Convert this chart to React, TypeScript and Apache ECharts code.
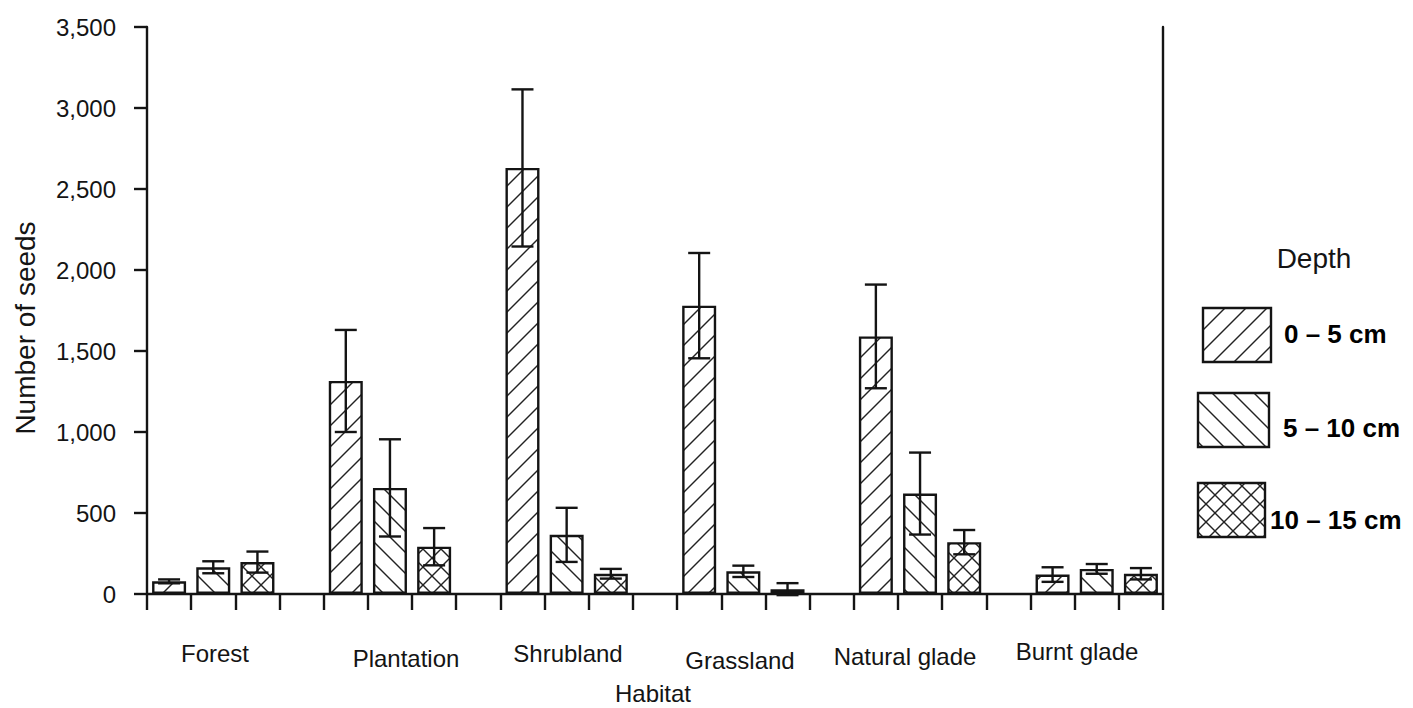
import React, { useEffect, useRef } from "react";
import * as echarts from "echarts";

// ---- data ----
const habitats = ["Forest", "Plantation", "Shrubland", "Grassland", "Natural glade", "Burnt glade"];
const depthLabels = ["0 – 5 cm", "5 – 10 cm", "10 – 15 cm"];
const seeds0to5 = [78, 1315, 2630, 1780, 1590, 120];
const seeds5to10 = [165, 655, 365, 140, 620, 155];
const seeds10to15 = [197, 292, 125, 30, 320, 125];
const err0to5 = [12, 315, 485, 325, 320, 45];
const err5to10 = [37, 300, 167, 35, 253, 30];
const err10to15 = [65, 115, 30, 37, 75, 35];
const yMin = 0;
const yMax = 3500;
const yStep = 500;

// ---- layout (not data) ----
const catLabelPos = [
  [215, 653], [406, 658], [568, 653], [740, 660], [905, 656], [1077, 651],
];
const FONT = "'Liberation Sans', Arial, Helvetica, sans-serif";
const INK = "#141414";
const LW = 2.4;

function makeHatch(kind: "fwd" | "back" | "cross", size: number) {
  const c = document.createElement("canvas");
  c.width = size;
  c.height = size;
  const ctx = c.getContext("2d")!;
  ctx.fillStyle = "#ffffff";
  ctx.fillRect(0, 0, size, size);
  ctx.strokeStyle = "#222222";
  ctx.lineWidth = 1.4;
  const fwd = () => {
    for (const k of [0, size, 2 * size]) {
      ctx.beginPath();
      ctx.moveTo(k - size - 2, size + 2);
      ctx.lineTo(k + 2, -2);
      ctx.stroke();
    }
  };
  const back = () => {
    for (const k of [-size, 0, size]) {
      ctx.beginPath();
      ctx.moveTo(k - 2, -2);
      ctx.lineTo(k + size + 2, size + 2);
      ctx.stroke();
    }
  };
  if (kind === "fwd") fwd();
  else if (kind === "back") back();
  else {
    fwd();
    back();
  }
  return { image: c, repeat: "repeat", imageWidth: size, imageHeight: size } as any;
}

export default function App() {
  const ref = useRef<HTMLDivElement>(null);
  useEffect(() => {
    if (!ref.current) return;
    const chart = echarts.init(ref.current, undefined, { renderer: "svg" });

    const patterns = [makeHatch("fwd", 21), makeHatch("back", 21), makeHatch("cross", 18)];
    const means = [seeds0to5, seeds5to10, seeds10to15];
    const errs = [err0to5, err5to10, err10to15];
    const G = habitats.length;
    const nSlots = G * 4 - 1;
    const slots: string[] = [];
    for (let g = 0; g < G; g++) {
      for (let s = 0; s < 4; s++) {
        if (s < 3) slots.push(habitats[g] + " " + depthLabels[s]);
        else if (g < G - 1) slots.push("gap " + g);
      }
    }

    const barSeries = depthLabels.map((name, d) => {
      const data: any[] = new Array(nSlots).fill("-");
      for (let g = 0; g < G; g++) data[g * 4 + d] = means[d][g];
      return {
        name,
        type: "bar",
        data,
        barWidth: 34,
        barGap: "-100%",
        itemStyle: { color: patterns[d], borderColor: INK, borderWidth: LW },
        emphasis: { disabled: true },
      };
    });

    const errData: number[][] = [];
    for (let d = 0; d < 3; d++)
      for (let g = 0; g < G; g++)
        errData.push([g * 4 + d, means[d][g] - errs[d][g], means[d][g] + errs[d][g]]);

    const legendBoxes = [
      [1203, 308, 68, 54],
      [1198, 393, 71, 54],
      [1198, 483, 67, 54],
    ];
    const legendText = [
      [1284, 334],
      [1283, 428],
      [1270, 520],
    ];

    const graphic: any[] = [];
    habitats.forEach((h, i) => {
      graphic.push({
        type: "text",
        x: catLabelPos[i][0],
        y: catLabelPos[i][1],
        style: { text: h, font: `24px ${FONT}`, fill: INK, textAlign: "center", textVerticalAlign: "middle" },
      });
    });
    graphic.push({
      type: "text",
      x: 653,
      y: 693,
      style: { text: "Habitat", font: `24px ${FONT}`, fill: INK, textAlign: "center", textVerticalAlign: "middle" },
    });
    graphic.push({
      type: "text",
      x: 25,
      y: 328,
      rotation: Math.PI / 2,
      style: { text: "Number of seeds", font: `28px ${FONT}`, fill: INK, textAlign: "center", textVerticalAlign: "middle" },
    });
    graphic.push({
      type: "text",
      x: 1314,
      y: 258,
      style: { text: "Depth", font: `28px ${FONT}`, fill: INK, textAlign: "center", textVerticalAlign: "middle" },
    });
    depthLabels.forEach((name, d) => {
      const [x, y, w, h] = legendBoxes[d];
      graphic.push({
        type: "rect",
        shape: { x, y, width: w, height: h },
        style: { fill: patterns[d], stroke: INK, lineWidth: LW },
      });
      graphic.push({
        type: "text",
        x: legendText[d][0],
        y: legendText[d][1],
        style: { text: name, font: `bold 26px ${FONT}`, fill: "#000", textAlign: "left", textVerticalAlign: "middle" },
      });
    });

    chart.setOption({
      animation: false,
      backgroundColor: "#ffffff",
      grid: { left: 147, right: 250, top: 27, bottom: 114, containLabel: false },
      xAxis: {
        type: "category",
        data: slots,
        boundaryGap: true,
        axisLine: { show: true, lineStyle: { color: INK, width: LW } },
        axisTick: { show: true, interval: 0, length: 16, lineStyle: { color: INK, width: LW } },
        axisLabel: { show: false },
        splitLine: { show: false },
      },
      yAxis: [
        {
          type: "value",
          min: yMin,
          max: yMax,
          interval: yStep,
          axisLine: { show: true, lineStyle: { color: INK, width: LW } },
          axisTick: { show: true, length: 13, lineStyle: { color: INK, width: LW } },
          axisLabel: {
            margin: 31,
            fontSize: 24,
            fontFamily: FONT,
            color: INK,
            formatter: (v: number) => v.toLocaleString("en-US"),
          },
          splitLine: { show: false },
        },
        {
          type: "value",
          position: "right",
          min: yMin,
          max: yMax,
          interval: yStep,
          axisLine: { show: true, lineStyle: { color: INK, width: LW } },
          axisTick: { show: false },
          axisLabel: { show: false },
          splitLine: { show: false },
        },
      ],
      series: [
        ...barSeries,
        {
          name: "SE",
          type: "custom",
          data: errData,
          encode: { x: 0, y: [1, 2] },
          z: 5,
          renderItem: (_params: any, api: any) => {
            const x = api.value(0);
            const lo = api.coord([x, api.value(1)]);
            const hi = api.coord([x, api.value(2)]);
            const hw = 11;
            const st = { stroke: INK, lineWidth: LW };
            return {
              type: "group",
              children: [
                { type: "line", shape: { x1: hi[0], y1: hi[1], x2: lo[0], y2: lo[1] }, style: st },
                { type: "line", shape: { x1: hi[0] - hw, y1: hi[1], x2: hi[0] + hw, y2: hi[1] }, style: st },
                { type: "line", shape: { x1: lo[0] - hw, y1: lo[1], x2: lo[0] + hw, y2: lo[1] }, style: st },
              ],
            };
          },
        },
      ],
      graphic,
    });
    return () => chart.dispose();
  }, []);
  return (
    <div
      ref={ref}
      style={{ position: "absolute", left: 0, top: 0, width: 1413, height: 708, background: "#fff" }}
    />
  );
}
